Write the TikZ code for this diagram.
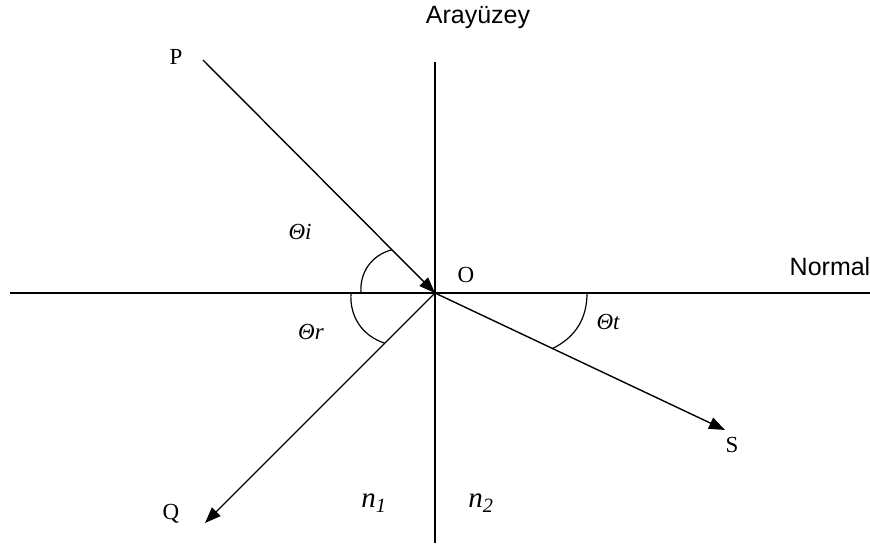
\documentclass[tikz,border=0pt]{standalone}
\usepackage{fontspec}
\setmainfont{Liberation Serif}
\setsansfont{Liberation Sans}
\usetikzlibrary{arrows.meta,calc}
\begin{document}
\begin{tikzpicture}[x=1pt, y=-1pt, line width=1.4pt,
  ray/.style={-{Triangle[length=16pt,width=12pt]}},
  ang/.style={line width=1.2pt},
  lbl/.style={font=\fontsize{23}{26}\selectfont, inner sep=0pt},
  thlbl/.style={font=\itshape\fontsize{23}{26}\selectfont, inner sep=0pt},
  nlbl/.style={font=\itshape\fontsize{29}{32}\selectfont, inner sep=0pt},
  slbl/.style={font=\sffamily\fontsize{25}{28}\selectfont, inner sep=0pt}]
  \useasboundingbox (0,0) rectangle (870,545);
  \coordinate (O) at (435,293);
  \coordinate (Pstart) at (203,60);
  \coordinate (Qtip) at (205,523);
  \coordinate (Stip) at (725,430);
  \coordinate (Itop) at (435,62);
  \coordinate (Ibot) at (435,543);
  \coordinate (Nleft) at (10,293);
  \coordinate (Nright) at (870,293);
  \draw (Itop) -- (Ibot);
  \draw (Nleft) -- (Nright);
  \draw[ray] (Pstart) -- (O);
  \draw[ray] (O) -- (Qtip);
  \draw[ray] (O) -- (Stip);
  \coordinate (ia) at ($(O)+(-74,0)$);
  \coordinate (ib) at ($(O)!61pt!(Pstart)$);
  \coordinate (ra) at ($(O)+(-84,0)$);
  \coordinate (rb) at ($(O)!71pt!(Qtip)$);
  \coordinate (ta) at ($(O)+(152,0)$);
  \coordinate (tb) at ($(O)!130pt!(Stip)$);
  \draw[ang] (ia) to[bend left=40] (ib);
  \draw[ang] (ra) to[bend right=38] (rb);
  \draw[ang] (ta) to[bend left=32] (tb);
  \node[lbl] (P) at (176,57) {P};
  \node[lbl] (Olbl) at (466,275) {O};
  \node[lbl] (Q) at (171,514) {Q};
  \node[lbl] (S) at (732,445) {S};
  \node[thlbl] (thi) at (300,232) {Θi};
  \node[thlbl] (thr) at (311,332) {Θr};
  \node[thlbl] (tht) at (608,322) {Θt};
  \node[nlbl] (n1) at (374,503) {n\textsubscript{1}};
  \node[nlbl] (n2) at (481,503) {n\textsubscript{2}};
  \node[slbl] (arayuzey) at (478,17) {Arayüzey};
  \node[slbl] (normal) at (830,267) {Normal};
\end{tikzpicture}
\end{document}
